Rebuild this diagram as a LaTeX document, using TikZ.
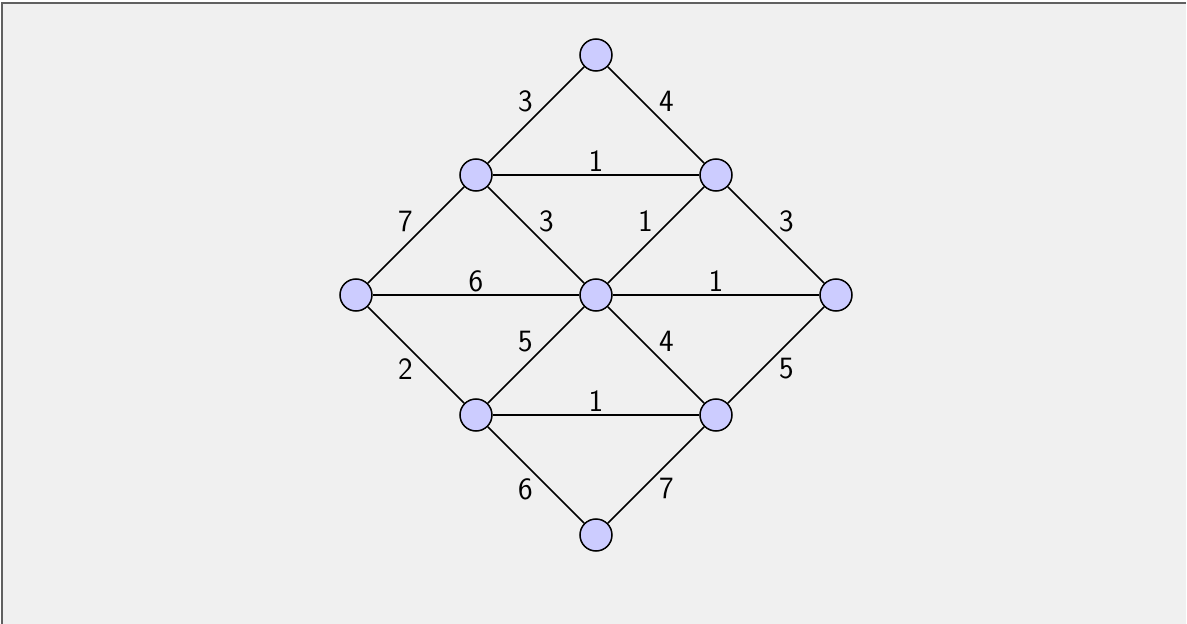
\documentclass[tikz,border=0pt]{standalone}
\usepackage{fontspec}
\usepackage{tikz}
\usetikzlibrary{positioning}
\definecolor{vertexfill}{RGB}{204,204,255}
\definecolor{panelbg}   {RGB}{240,240,240}
\definecolor{panelrule} {RGB}{96,96,96}

\begin{document}
\begin{tikzpicture}[
    on grid,
    node distance=120pt and 120pt,
    vertex/.style={circle, draw, fill=vertexfill, line width=1.5pt, minimum size=32pt, inner sep=0pt},
    edge/.style={line width=1.5pt},
    wt/.style={font=\sffamily\fontsize{31}{36}\selectfont, inner sep=2.5pt}
]
    % Panel behind the graph
    \useasboundingbox (-596pt,-329pt) rectangle (591pt,295pt);
    \fill[panelbg] (-593.5pt,-329pt) rectangle (590pt,291.5pt);
    \draw[panelrule, line width=2pt] (-593.5pt,-329pt) -- (-593.5pt,291.5pt) -- (590pt,291.5pt);

    % Vertices (diamond grid around the centre)
    \node[vertex] (c) at (0,0) {};
    \node[vertex] (l)  [left=240pt of c] {};
    \node[vertex] (r)  [right=240pt of c] {};
    \node[vertex] (ul) [above left=120pt and 120pt of c] {};
    \node[vertex] (ur) [above right=120pt and 120pt of c] {};
    \node[vertex] (ll) [below left=120pt and 120pt of c] {};
    \node[vertex] (lr) [below right=120pt and 120pt of c] {};
    \node[vertex] (t)  [above=240pt of c] {};
    \node[vertex] (b)  [below=240pt of c] {};

    % Weighted edges
    \draw[edge] (t) -- node[wt, above left] {3} (ul);
    \draw[edge] (t) -- node[wt, above right] {4} (ur);
    \draw[edge] (ul) -- node[wt, above] {1} (ur);
    \draw[edge] (ul) -- node[wt, above left] {7} (l);
    \draw[edge] (ul) -- node[wt, above right] {3} (c);
    \draw[edge] (ur) -- node[wt, above left] {1} (c);
    \draw[edge] (ur) -- node[wt, above right] {3} (r);
    \draw[edge] (l) -- node[wt, above] {6} (c);
    \draw[edge] (c) -- node[wt, above] {1} (r);
    \draw[edge] (l) -- node[wt, below left] {2} (ll);
    \draw[edge] (ll) -- node[wt, above left] {5} (c);
    \draw[edge] (c) -- node[wt, above right] {4} (lr);
    \draw[edge] (lr) -- node[wt, below right] {5} (r);
    \draw[edge] (ll) -- node[wt, above] {1} (lr);
    \draw[edge] (ll) -- node[wt, below left] {6} (b);
    \draw[edge] (lr) -- node[wt, below right] {7} (b);
\end{tikzpicture}
\end{document}
